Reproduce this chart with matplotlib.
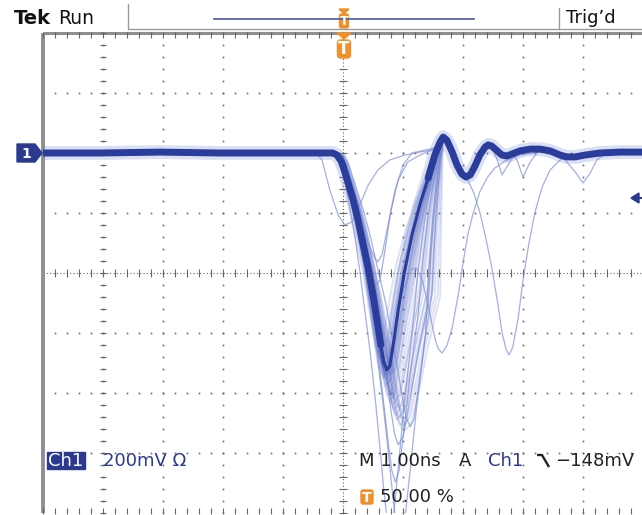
import numpy as np
import matplotlib
matplotlib.use("Agg")
import matplotlib.pyplot as plt
from matplotlib.patches import Rectangle, Polygon, FancyBboxPatch

# ---------------- data (time in ns, voltage in mV, ground = 0) ----------------
main_t = [-5.00, -4.05, -3.05, -2.05, -1.05, -0.38, -0.17, -0.10, -0.03, 0.03, 0.10,
          0.17, 0.25, 0.33, 0.42, 0.50, 0.58, 0.63, 0.68, 0.73, 0.78, 0.85, 0.92,
          1.02, 1.15, 1.28, 1.42, 1.53, 1.62, 1.67, 1.73, 1.82, 1.90, 1.98, 2.05,
          2.12, 2.20, 2.28, 2.37, 2.42, 2.48, 2.57, 2.65, 2.73, 2.82, 2.95, 3.12,
          3.28, 3.45, 3.62, 3.73, 3.87, 4.03, 4.28, 4.62, 5.03]
main_v = [0, 0, 3, 0, 0, 0, 0, -7, -27, -63, -110,
          -157, -223, -300, -383, -473, -573, -640, -697, -723, -710, -623, -523,
          -400, -273, -173, -83, -7, 37, 53, 43, 3, -40, -70, -80,
          -73, -43, -7, 20, 27, 23, 7, -7, -10, -3, 7, 13,
          13, 7, -7, -13, -13, -7, 0, 3, 3]

# bundle of persistence traces: trough time, trough depth, rising-edge time at -400 mV
bundle_trough_t = [0.58, 0.62, 0.65, 0.67, 0.68, 0.70, 0.72, 0.73, 0.75, 0.77, 0.78, 0.80,
                   0.70, 0.73, 0.77, 0.68, 0.72, 0.75, 0.78, 0.82, 0.83, 0.85, 0.88, 0.90,
                   0.93, 0.95, 0.98, 1.02, 1.05, 0.87, 0.92, 0.97]
bundle_trough_v = [-663, -683, -697, -710, -723, -730, -743, -757, -770, -783, -797, -810,
                   -707, -737, -760, -750, -777, -807, -830, -817, -840, -857, -873, -890,
                   -883, -907, -917, -907, -923, -823, -850, -863]
bundle_cross_t = [0.88, 0.92, 0.93, 0.97, 0.98, 1.02, 1.03, 1.07, 1.08, 1.12, 1.15, 1.17,
                  1.00, 1.05, 1.10, 1.02, 1.07, 1.13, 1.18, 1.23, 1.27, 1.30, 1.35, 1.40,
                  1.45, 1.48, 1.53, 1.58, 1.62, 1.33, 1.42, 1.50]

deep_trough_t = [0.87, 0.78, 0.95, 1.12, 0.92]
deep_trough_v = [-1097, -1257, -1290, -913, -973]
deep_cross_t = [1.25, 1.15, 1.37, 1.48, 1.42]

# individual outlier traces (partial paths, joined to the main trace)
s1_t = [-5.00, -0.42, -0.35, -0.22, -0.08, 0.03, 0.15, 0.28, 0.42, 0.58, 0.78, 1.03, 1.28, 1.50]
s1_v = [0, -7, -23, -123, -207, -240, -230, -173, -107, -57, -23, -7, 3, 10]
s2_t = [0.28, 0.42, 0.52, 0.58, 0.65, 0.75, 0.87, 1.00, 1.15, 1.37, 1.53]
s2_v = [-223, -300, -347, -363, -340, -240, -123, -40, 0, 10, 17]
s3_t = [0.48, 0.55, 0.62, 0.70, 0.80, 0.92, 1.08, 1.28, 1.48]
s3_v = [-423, -440, -423, -323, -190, -90, -30, -7, 10]
oa_t = [0.72, 0.78, 0.87, 0.98, 1.12, 1.22, 1.32, 1.42, 1.52, 1.58, 1.65, 1.73, 1.82,
        1.92, 2.00, 2.08, 2.17, 2.28, 2.40, 2.53, 2.70, 2.95, 3.28]
oa_v = [-750, -723, -607, -473, -390, -383, -423, -507, -607, -650, -667, -643, -583,
        -473, -367, -273, -200, -130, -83, -50, -27, -7, 3]
ob_t = [2.08, 2.18, 2.28, 2.38, 2.48, 2.57, 2.65, 2.72, 2.77, 2.83, 2.92, 3.00, 3.10,
        3.20, 3.32, 3.45, 3.62, 3.78]
ob_v = [-90, -133, -197, -283, -383, -490, -597, -657, -673, -647, -550, -423, -300,
        -197, -113, -57, -23, -13]
oc_t = [3.73, 3.87, 4.00, 4.12, 4.23, 4.37]
oc_v = [-30, -63, -100, -67, -23, -3]
od1_t = [2.57, 2.65, 2.75, 2.85]
od1_v = [-23, -73, -40, -10]
od2_t = [2.90, 3.00, 3.12, 3.23]
od2_v = [-23, -80, -30, 0]

# ---------------- figure ----------------
W, H = 642, 515
fig = plt.figure(figsize=(W / 100, H / 100), dpi=100)
fig.patch.set_facecolor("white")
ax = fig.add_axes([43 / W, 2 / H, 600 / W, 480 / H])
ax.set_xlim(-5, 5)
ax.set_ylim(-1200, 400)
ax.axis("off")

# graticule
gc = "#666666"
for xk in range(-4, 5):
    if xk == 0:
        continue
    ys = np.arange(-1200, 401, 40)
    ax.plot(np.full_like(ys, xk, dtype=float), ys, ls="none", marker="s", ms=1.2,
            color=gc, mew=0)
for yk in range(-1000, 400, 200):
    if yk == -400:
        continue
    xs = np.arange(-5, 5.01, 0.2)
    ax.plot(xs, np.full_like(xs, yk), ls="none", marker="s", ms=1.2, color=gc, mew=0)
# centre lines
ax.plot([0, 0], [-1200, 400], ls=(0, (1, 2)), lw=0.8, color=gc)
ax.plot([-5, 5], [-400, -400], ls=(0, (1, 2)), lw=0.8, color=gc)
yt = np.arange(-1200, 401, 40)
ax.plot(np.zeros_like(yt), yt, ls="none", marker="_", ms=6, mew=0.8, color=gc)
xt = np.arange(-5, 5.01, 0.2)
ax.plot(xt, np.full_like(xt, -400), ls="none", marker="|", ms=6, mew=0.8, color=gc)
# border rulers
ax.plot([-5, -5], [-1200, 400], lw=2.8, color="#8f8f8f", clip_on=False,
        solid_capstyle="butt")
ax.plot([-5, 5.1], [400, 400], lw=2.2, color="#8f8f8f", clip_on=False,
        solid_capstyle="butt")
ax.plot(np.full_like(yt, -4.95), yt, ls="none", marker="_", ms=4, mew=0.8, color=gc,
        clip_on=False)
ax.plot(xt, np.full_like(xt, 392), ls="none", marker="|", ms=4, mew=0.8, color=gc,
        clip_on=False)
ax.plot(xt, np.full_like(xt, -1192), ls="none", marker="|", ms=4, mew=0.8, color=gc,
        clip_on=False)

# ---------------- traces ----------------
mt = np.array(main_t, float)
mv = np.array(main_v, float)
T0, TC0, TP, V0 = 0.73, 1.02, 1.67, -723.0


def bundle_trace(tt, vv, tc):
    k = vv / V0
    out_t, out_v = [], []
    for t, v in zip(mt, mv):
        if t <= T0:
            g = 0.3 if t <= 0 else 0.3 + 0.7 * t / T0
            out_t.append(t + (tt - T0) * g)
            out_v.append(v * k)
        elif t <= TP:
            kk = k + (1 - k) * (t - T0) / (TP - T0)
            if t <= TC0:
                f = (t - T0) / (TC0 - T0)
                out_t.append(tt + f * (tc - tt))
            else:
                f = (t - TC0) / (TP - TC0)
                out_t.append(tc + f * (TP - tc))
            out_v.append(v * kk)
        else:
            out_t.append(t)
            out_v.append(v)
    return np.array(out_t), np.array(out_v)


def joined(pre_until, seg_t, seg_v, post_from):
    a = mt <= pre_until
    b = mt >= post_from
    return (np.concatenate([mt[a], seg_t, mt[b]]),
            np.concatenate([mv[a], seg_v, mv[b]]))


blue = "#2a3c9c"
light = "#7d8ed6"

# halo of the main trace (noise band)
ax.plot(mt, mv, color="#6f80cc", lw=10, alpha=0.25, solid_capstyle="round", zorder=3)

for tt, vv, tc in zip(bundle_trough_t, bundle_trough_v, bundle_cross_t):
    bt, bv = bundle_trace(tt, vv, tc)
    ax.plot(bt, bv, color="#3d52b8", lw=1.4, alpha=0.17, zorder=4)
for tt, vv, tc in zip(deep_trough_t, deep_trough_v, deep_cross_t):
    bt, bv = bundle_trace(tt, vv, tc)
    ax.plot(bt, bv, color=light, lw=0.9, alpha=0.7, zorder=4)

outliers = [
    (np.array(s1_t), np.array(s1_v), None),
    joined(0.15, s2_t, s2_v, 1.62),
    joined(0.33, s3_t, s3_v, 1.62),
    joined(0.68, oa_t, oa_v, 3.4),
    joined(1.98, ob_t, ob_v, 3.8),
    joined(3.62, oc_t, oc_v, 4.4),
    joined(2.48, od1_t, od1_v, 2.9),
    joined(2.82, od2_t, od2_v, 3.25),
]
for item in outliers:
    ot, ovv = item[0], item[1]
    if len(item) == 3:
        ot = np.concatenate([ot, mt[mt >= 1.62]])
        ovv = np.concatenate([ovv, mv[mt >= 1.62]])
    ax.plot(ot, ovv, color=light, lw=0.9, alpha=0.7, zorder=4)

# main trace
ax.plot(mt, mv, color=blue, lw=2.2, zorder=5)
sel1 = mt <= 0.63
sel2 = mt >= 1.42
ax.plot(mt[sel1], mv[sel1], color=blue, lw=5, zorder=5, solid_capstyle="round")
ax.plot(mt[sel2], mv[sel2], color=blue, lw=5, zorder=5, solid_capstyle="round")

# ---------------- overlay (screen furniture) ----------------
ov = fig.add_axes([0, 0, 1, 1], zorder=10)
ov.set_xlim(0, W)
ov.set_ylim(H, 0)
ov.axis("off")
ov.patch.set_alpha(0)

fam = ["DejaVu Sans"]
ov.text(14, 18, "Tek", fontsize=14, fontweight="bold", va="center", ha="left",
        color="#111111", family=fam)
ov.text(58, 18, "Run", fontsize=13.5, va="center", ha="left", color="#111111", family=fam)
ov.text(566, 18, "Trig\u2019d", fontsize=13, va="center", ha="left", color="#111111",
        family=fam)
ov.plot([128, 128, 642], [4, 29, 29], color="#9a9a9a", lw=1)
ov.plot([559, 559], [8, 29], color="#9a9a9a", lw=1)
ov.plot([214, 474], [19, 19], color="#5a64a8", lw=1.3)

orange = "#f0902a"
# top trigger marker
ov.add_patch(Polygon([[339, 9], [349, 9], [344, 14]], closed=True, color=orange))
ov.add_patch(FancyBboxPatch((339.5, 14), 9, 14, boxstyle="round,pad=0,rounding_size=2",
                            color=orange))
ov.text(344, 21.5, "T", fontsize=9, fontweight="bold", color="white", ha="center",
        va="center", family=fam)
# lower trigger marker
ov.add_patch(Polygon([[337, 33], [351, 33], [344, 39]], closed=True, color=orange))
ov.add_patch(FancyBboxPatch((337.5, 40), 13, 18, boxstyle="round,pad=0,rounding_size=3",
                            color=orange))
ov.text(344, 49.5, "T", fontsize=12, fontweight="bold", color="white", ha="center",
        va="center", family=fam)

# channel 1 ground marker
ov.add_patch(Polygon([[17, 144], [35, 144], [42, 153], [35, 162], [17, 162]], closed=True,
                     color="#2b3990"))
ov.text(26, 153.5, "1", fontsize=10, fontweight="bold", color="white", ha="center",
        va="center", family=fam)

# trigger level arrow (right edge)
ov.add_patch(Polygon([[631, 198], [639, 193], [639, 203]], closed=True, color="#2b3990"))
ov.plot([636, 642], [198, 198], color="#2b3990", lw=1.5)

# bottom readouts
fs = 13
ty = 461
ov.add_patch(Rectangle((47, 452), 38, 17, color="#2b3990"))
ov.text(66, ty, "Ch1", fontsize=fs, color="white", ha="center", va="center", family=fam)
ov.text(103, ty, "200mV \u03a9", fontsize=fs, color="#2b3990", ha="left", va="center",
        family=fam)
ov.text(359, ty, "M 1.00ns", fontsize=fs, color="#222222", ha="left", va="center",
        family=fam)
ov.text(459, ty, "A", fontsize=fs, color="#222222", ha="left", va="center", family=fam)
ov.text(488, ty, "Ch1", fontsize=fs, color="#2b3990", ha="left", va="center",
        family=fam)
ov.plot([537, 542, 549], [455, 455, 467], color="#222222", lw=1.7,
        solid_capstyle="butt")
ov.text(555, ty, "\u2212148mV", fontsize=fs, color="#222222", ha="left", va="center",
        family=fam)
ov.add_patch(FancyBboxPatch((361, 490), 12, 14, boxstyle="round,pad=0,rounding_size=2",
                            color=orange))
ov.text(367, 497.5, "T", fontsize=10, fontweight="bold", color="white", ha="center",
        va="center", family=fam)
ov.text(380, 497, "50.00 %", fontsize=fs, color="#222222", ha="left", va="center",
        family=fam)

fig.savefig("out.png", dpi=100, facecolor="white")
